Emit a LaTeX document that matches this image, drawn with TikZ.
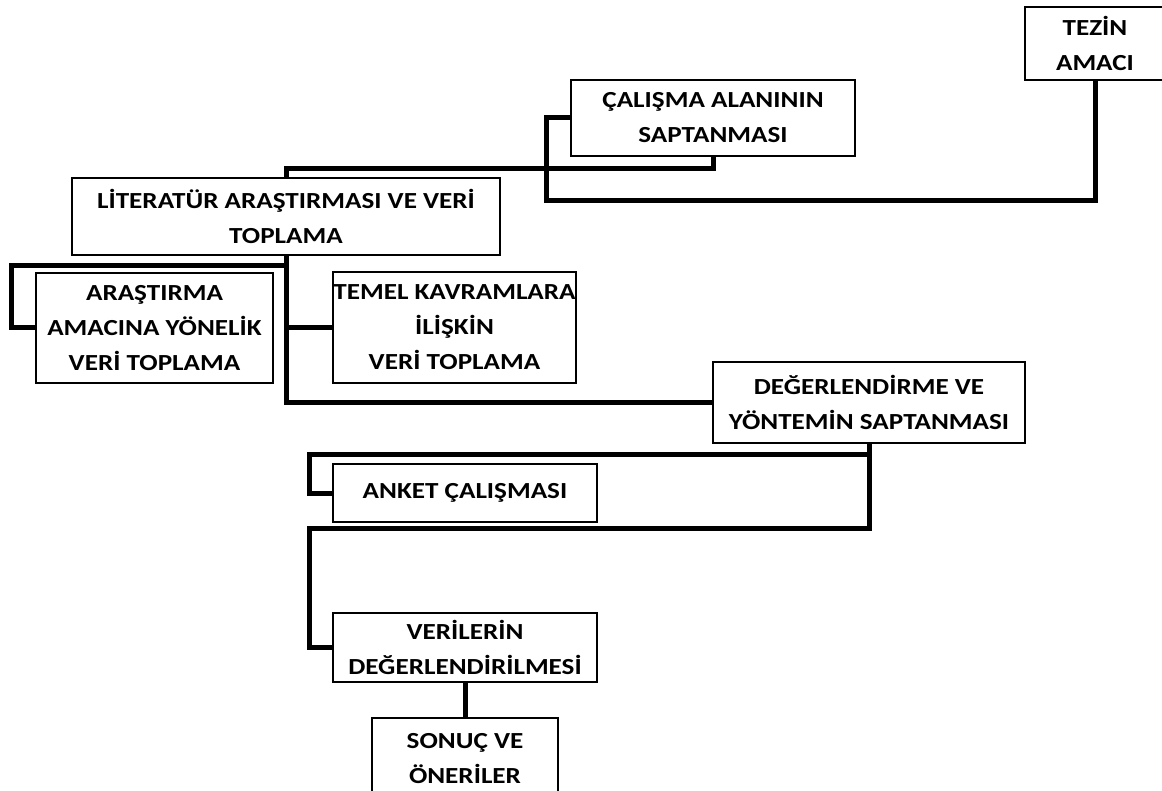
\documentclass[tikz,border=0pt]{standalone}
\usepackage{fontspec}
\newfontfamily\boxfont[FakeStretch=1.18]{Carlito}
\usetikzlibrary{positioning}

\begin{document}
\begin{tikzpicture}[
  x=1pt, y=-1pt,
  stage/.style={draw, line width=1.5pt, fill=white, align=center,
    inner sep=0pt, font=\boxfont\bfseries\fontsize{23}{35}\selectfont},
  link/.style={line width=5pt, line join=miter},
]
  \useasboundingbox (0,0) rectangle (1162,791);

  % Boxes (top to bottom)
  \node[stage, minimum width=140pt, minimum height=73pt] (tez) at (1095,43.5) {TEZİN\\AMACI};
  \node[stage, minimum width=284pt, minimum height=76pt] (cal) at (713,118) {ÇALIŞMA ALANININ\\SAPTANMASI};
  \node[stage, minimum width=428pt, minimum height=77pt] (lit) at (286,216.5) {LİTERATÜR ARAŞTIRMASI VE VERİ\\TOPLAMA};
  \node[stage, minimum width=237pt, minimum height=110pt] (ara) at (154.5,328) {ARAŞTIRMA\\AMACINA YÖNELİK\\VERİ TOPLAMA};
  \node[stage, minimum width=243pt, minimum height=111pt] (tem) at (454.5,327.5) {TEMEL KAVRAMLARA\\İLİŞKİN\\VERİ TOPLAMA};
  \node[stage, minimum width=312pt, minimum height=81pt] (deg) at (869,402.5) {DEĞERLENDİRME VE\\YÖNTEMİN SAPTANMASI};
  \node[stage, minimum width=264pt, minimum height=58pt] (ank) at (465,493) {ANKET ÇALIŞMASI};
  \node[stage, minimum width=264pt, minimum height=69pt] (ver) at (465,647.5) {VERİLERİN\\DEĞERLENDİRİLMESİ};
  \node[stage, minimum width=186pt, minimum height=82pt] (son) at (465,759) {SONUÇ VE\\ÖNERİLER};

  % Connectors
  \draw[link] (tez.south) -- ++(0,120) -| ([xshift=-24pt]cal.west) -- (cal.west);
  \draw[link] (cal.south) -- ++(0,12) -| (lit.north);
  \draw[link] (lit.south) -- ++(0,10) -| ([xshift=-24pt]ara.west) -- (ara.west);
  \draw[link] (lit.south) |- (deg.west);
  \draw[link] (lit.south |- tem.west) -- (tem.west);
  \draw[link] (deg.south) -- ++(0,11) -| ([xshift=-23pt]ank.west) -- (ank.west);
  \draw[link] (deg.south) -- ++(0,85) -| ([xshift=-23pt]ver.west) -- (ver.west);
  \draw[link] (ver.south) -- (son.north);
\end{tikzpicture}
\end{document}
